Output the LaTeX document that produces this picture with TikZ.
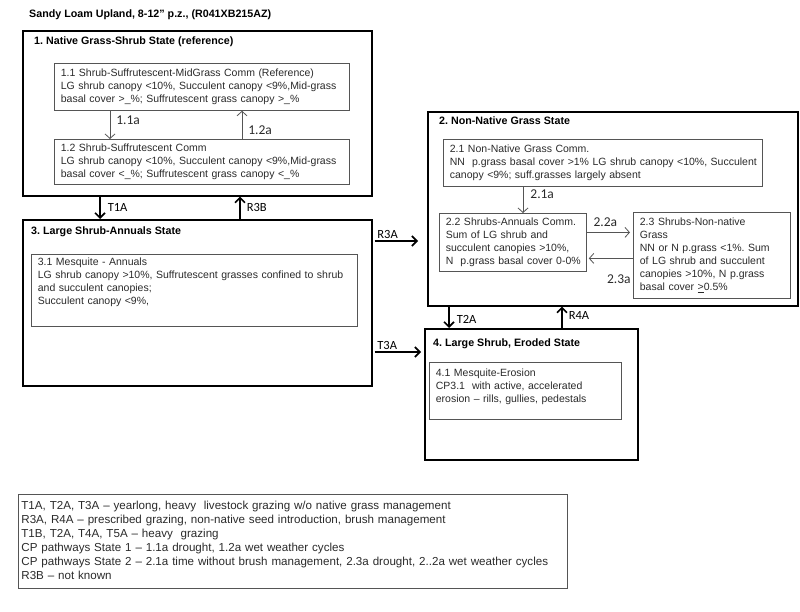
\documentclass[tikz,border=0pt]{standalone}
\usepackage{fontspec}
\setmainfont{Liberation Sans}
\newfontfamily\calib{Carlito}
\usepackage{xcolor}
\usepackage{tikz}
\usetikzlibrary{shapes,arrows,arrows.meta,positioning,calc}
\hyphenpenalty=10000
\exhyphenpenalty=10000
\frenchspacing
\definecolor{boxgray}{HTML}{555555}
\definecolor{txtgray}{HTML}{2A2A2A}
\tikzstyle{state} = [draw, line width=1.6pt, rectangle, anchor=north west, inner sep=0pt]
\tikzstyle{comm} = [draw=boxgray, line width=0.8pt, rectangle, anchor=north west,
    inner xsep=6.5pt, inner ysep=3pt, align=left, text=txtgray,
    font=\fontsize{10.5}{13}\selectfont]
\tikzstyle{heading} = [anchor=west, inner sep=0pt, font=\fontsize{10.7}{12}\selectfont\bfseries]
\tikzstyle{connector} = [-{Straight Barb[length=5pt,width=10pt]}, line width=1.6pt]
\tikzstyle{pathway} = [-{Straight Barb[length=4.5pt,width=10pt]}, line width=0.8pt, draw=boxgray]
\tikzstyle{plabel} = [inner sep=2pt, font=\calib\fontsize{13.5}{14}\selectfont, text=txtgray]
\tikzstyle{tlabel} = [inner sep=2pt, font=\calib\fontsize{12.5}{14}\selectfont]

\begin{document}
\begin{tikzpicture}[x=1pt, y=-1pt]
	\useasboundingbox (0,0) rectangle (800,612);
	\node[heading] (title) at (29,15) {Sandy Loam Upland, 8-12” p.z., (R041XB215AZ)};
	
	% states
	\node[state, minimum width=349pt, minimum height=165pt] (S1) at (22,30) {};
	\node[state, minimum width=349pt, minimum height=166pt] (S3) at (22,219) {};
	\node[state, minimum width=370pt, minimum height=194pt] (S2) at (427,111) {};
	\node[state, minimum width=213pt, minimum height=131pt] (S4) at (424,328) {};
	
	\node[heading] (h1) at (34,42) {1. Native Grass-Shrub State (reference)};
	\node[heading] (h2) at (439,121) {2. Non-Native Grass State};
	\node[heading] (h3) at (31,232) {3. Large Shrub-Annuals State};
	\node[heading] (h4) at (433,344) {4. Large Shrub, Eroded State};
	
	% communities
	\node[comm, text width=282pt, minimum height=47pt] (C11) at (54,63)
		{1.1 Shrub-Suffrutescent-MidGrass Comm (Reference)\\LG shrub canopy <10\%, Succulent canopy <9\%,Mid-grass\\basal cover >\_\%; Suffrutescent grass canopy >\_\%};
	\node[comm, text width=282pt, minimum height=45pt] (C12) at (54,139)
		{1.2 Shrub-Suffrutescent Comm\\LG shrub canopy <10\%, Succulent canopy <9\%,Mid-grass\\basal cover <\_\%; Suffrutescent grass canopy <\_\%};
	\node[comm, text width=306pt, minimum height=47pt] (C21) at (443,139)
		{2.1 Non-Native Grass Comm.\\\mbox{NN\ \ p.grass basal cover >1\% LG shrub canopy <10\%, Succulent}\\canopy <9\%; suff.grasses largely absent};
	\node[comm, text width=134pt, minimum height=58pt] (C22) at (439,213)
		{2.2 Shrubs-Annuals Comm.\\Sum of LG shrub and\\succulent canopies >10\%,\\\mbox{N\ \ p.grass basal cover 0-0\%}};
	\node[comm, text width=144pt, minimum height=86pt] (C23) at (633,212)
		{2.3 Shrubs-Non-native\\Grass\\NN or N p.grass <1\%. Sum\\of LG shrub and succulent\\canopies >10\%, N p.grass\\basal cover \underline{>}0.5\%};
	\node[comm, text width=313pt, text depth=58pt] (C31) at (31,254)
		{3.1 Mesquite - Annuals\\LG shrub canopy >10\%, Suffrutescent grasses confined to shrub\\and succulent canopies;\\Succulent canopy <9\%,};
	\node[comm, text width=179pt, text height=11pt, text depth=40pt] (C41) at (429,362)
		{4.1 Mesquite-Erosion\\CP3.1\ \ with active, accelerated\\erosion – rills, gullies, pedestals};
	
	% community pathways
	\draw[pathway] ([xshift=56pt]C11.south west) to node[plabel, right, pos=0.35, xshift=4pt] {1.1a} ([xshift=56pt]C12.north west);
	\draw[pathway] ([xshift=188pt]C12.north west) to node[plabel, right, pos=0.3, xshift=4pt] {1.2a} ([xshift=188pt]C11.south west);
	\draw[pathway] ([xshift=80pt]C21.south west) to node[plabel, right, pos=0.3, xshift=5pt] {2.1a} ([xshift=84pt]C22.north west);
	\draw[pathway] ([yshift=10pt]C22.east) to node[plabel, above, yshift=3pt, xshift=-3pt] {2.2a} ([yshift=10pt, xshift=-3pt]C22.east -| C23.west);
	\draw[pathway] ([yshift=-16pt]C22.east -| C23.west) to node[plabel, pos=0, anchor=north east, yshift=-14pt] {2.3a} ([yshift=-16pt, xshift=2pt]C22.east);
	
	% transitions
	\draw[connector] ([xshift=78pt]S1.south west) to node[tlabel, right, xshift=5pt] {T1A} ([xshift=78pt]S3.north west);
	\draw[connector] ([xshift=218pt]S3.north west) to node[tlabel, right, xshift=4pt] {R3B} ([xshift=218pt]S1.south west);
	\draw[connector] ([yshift=-22pt, xshift=2pt]S3.north east) to node[tlabel, above, pos=0, anchor=south west] {R3A} ([yshift=-22pt, xshift=-9pt]S3.north east -| S2.west);
	\draw[connector] ([yshift=-133pt, xshift=2pt]S3.north east) to node[tlabel, above, pos=0, anchor=south west] {T3A} ([yshift=-133pt, xshift=-3pt]S3.north east -| S4.west);
	\draw[connector] ([xshift=22pt]S2.south west) to node[tlabel, right, pos=0.6, xshift=5pt] {T2A} ([xshift=25pt]S4.north west);
	\draw[connector] ([xshift=138pt]S4.north west) to node[tlabel, right, pos=0.6, xshift=4pt] {R4A} ([xshift=135pt]S2.south west);
	
	% legend
	\node[draw=boxgray, line width=0.8pt, anchor=north west, inner xsep=3pt, inner ysep=0pt,
		text height=15pt, text depth=79pt, align=left, text width=543pt,
		font=\fontsize{11.6}{14}\selectfont, text=txtgray] (legend) at (18,494)
		{T1A,\ T2A,\ T3A\ – yearlong, heavy\ \ livestock grazing w/o native grass management\\
		R3A, R4A – prescribed grazing, non-native seed introduction, brush management\\
		T1B, T2A, T4A,\ T5A – heavy\ \ grazing\\
		CP pathways State 1 – 1.1a drought, 1.2a wet weather cycles\\
		CP pathways State 2 – 2.1a time without brush management, 2.3a drought, 2..2a wet weather cycles\\
		R3B – not known};
\end{tikzpicture}
\end{document}
